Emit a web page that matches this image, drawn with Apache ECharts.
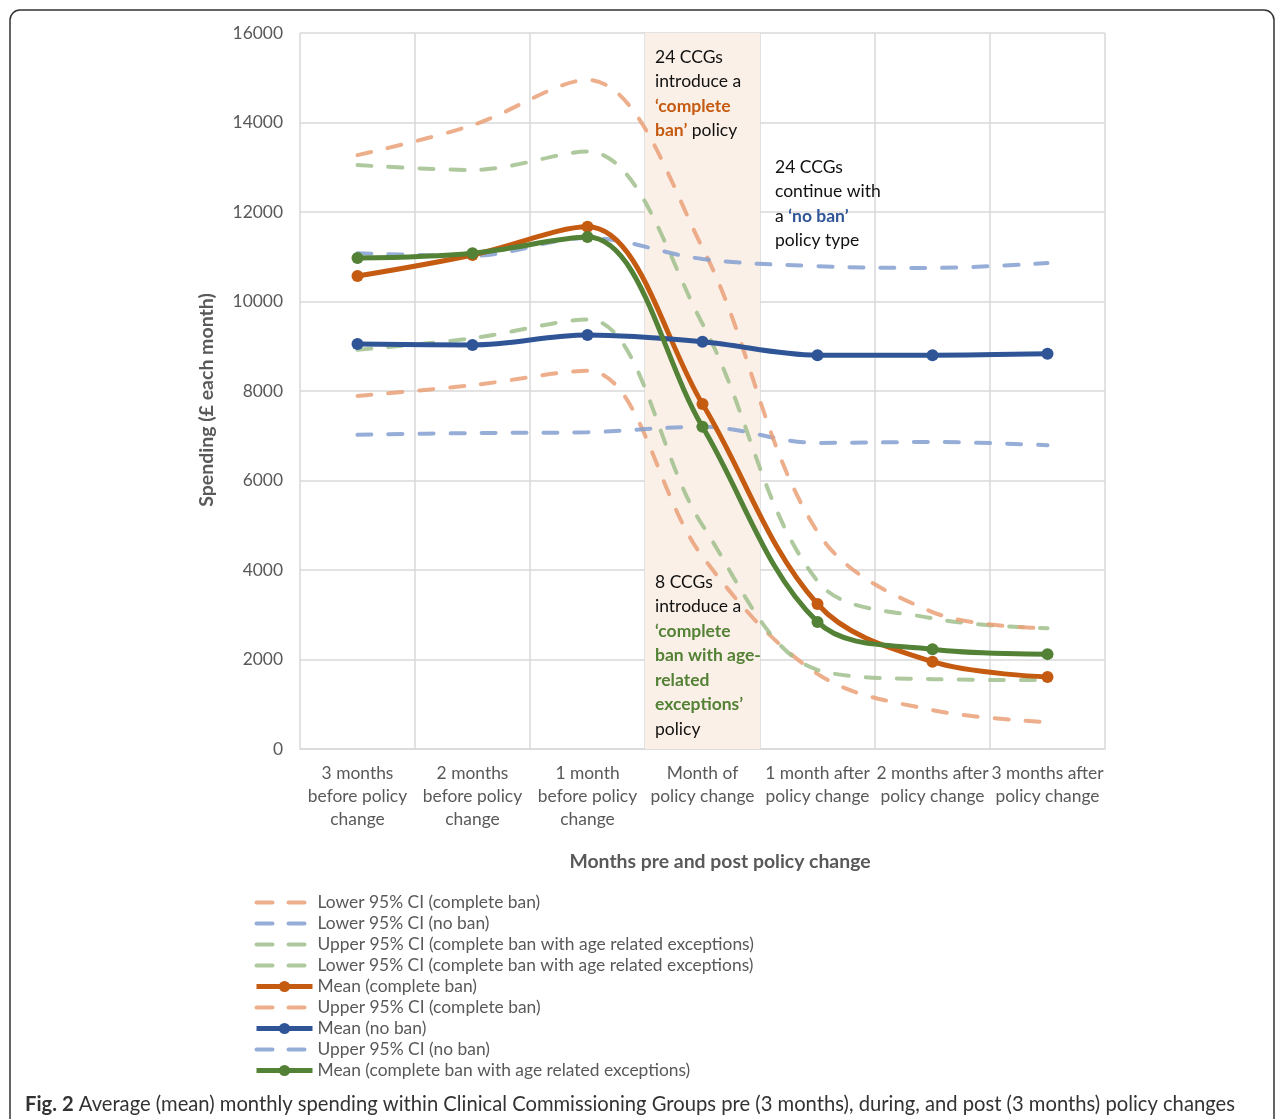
<!DOCTYPE html>
<html><head><meta charset="utf-8">
<script src="https://cdn.jsdelivr.net/npm/echarts@6/dist/echarts.min.js"></script>
<style>html,body{margin:0;padding:0;background:#fff}#c{width:1281px;height:1119px}</style>
</head><body><div id="c"></div>
<script>
const categories = ['3 months\nbefore policy\nchange','2 months\nbefore policy\nchange','1 month\nbefore policy\nchange','Month of\npolicy change','1 month after\npolicy change','2 months after\npolicy change','3 months after\npolicy change'];
const yTicks = [0,2000,4000,6000,8000,10000,12000,14000,16000];
const lowerCompleteBan = [7890, 8130, 8450, 4300, 1680, 870, 600];
const lowerNoBan = [7020, 7060, 7080, 7200, 6840, 6860, 6790];
const upperAgeExc = [13050, 12940, 13350, 9500, 3750, 2920, 2700];
const lowerAgeExc = [8920, 9180, 9600, 5000, 1770, 1560, 1540];
const meanCompleteBan = [10570, 11040, 11670, 7710, 3240, 1950, 1610];
const upperCompleteBan = [13270, 13940, 14950, 11200, 4850, 3060, 2700];
const meanNoBan = [9050, 9030, 9250, 9100, 8800, 8800, 8830];
const upperNoBan = [11080, 11020, 11420, 10950, 10790, 10750, 10860];
const meanAgeExc = [10970, 11080, 11440, 7200, 2840, 2230, 2120];
const policyBand = [null, null, null, 16000, null, null, null];

const FONT = 'Lato';
const FS = 17.4;
const SM = 0.35;
const cOr = '#c55a11', cBl = '#2f5597', cGr = '#538135';
const dOr = 'rgba(234,160,120,0.85)', dBl = 'rgba(132,160,208,0.85)', dGr = 'rgba(160,192,140,0.85)';

function dashed(name, data, color) {
  return {name, type:'line', data, smooth:SM, symbol:'none', z:3,
    lineStyle:{color, width:4, type:[14,17], cap:'round'}, itemStyle:{color}};
}
function mean(name, data, color) {
  return {name, type:'line', data, smooth:SM, symbol:'circle', symbolSize:12, z:4,
    lineStyle:{color, width:5}, itemStyle:{color}};
}
const series = [
  {name:'band', type:'bar', data:policyBand, barWidth:'100%', barGap:'-100%', z:1, silent:true,
   itemStyle:{color:'#fbf0e7'}},
  dashed('Lower 95% CI (complete ban)', lowerCompleteBan, dOr),
  dashed('Lower 95% CI (no ban)', lowerNoBan, dBl),
  dashed('Upper 95% CI (complete ban with age related exceptions)', upperAgeExc, dGr),
  dashed('Lower 95% CI (complete ban with age related exceptions)', lowerAgeExc, dGr),
  mean('Mean (complete ban)', meanCompleteBan, cOr),
  dashed('Upper 95% CI (complete ban)', upperCompleteBan, dOr),
  mean('Mean (no ban)', meanNoBan, cBl),
  dashed('Upper 95% CI (no ban)', upperNoBan, dBl),
  mean('Mean (complete ban with age related exceptions)', meanAgeExc, cGr)
];
const legendData = series.slice(1).map(s => s.symbol === 'none'
  ? {name:s.name, itemStyle:{opacity:0}, lineStyle:{width:4, type:[16,16], cap:'round'}}
  : {name:s.name, lineStyle:{width:5}});

const txt = {fontFamily:FONT, fontSize:17.5, lineHeight:24.5, fill:'#111'};
const option = {
  animation:false,
  backgroundColor:'#fff',
  textStyle:{fontFamily:FONT},
  grid:{left:300, right:176, top:33, bottom:370, containLabel:false},
  xAxis:{type:'category', data:categories, boundaryGap:true,
    axisLine:{lineStyle:{color:'#d9d9d9', width:1.5}}, axisTick:{show:false},
    splitLine:{show:true, lineStyle:{color:'#d9d9d9', width:1.5}},
    axisLabel:{color:'#595959', fontSize:FS, lineHeight:23, margin:13, fontFamily:FONT, interval:0}},
  yAxis:{type:'value', min:0, max:16000, interval:2000,
    axisLine:{show:false}, axisTick:{show:false},
    splitLine:{lineStyle:{color:'#d9d9d9', width:1.5}},
    axisLabel:{color:'#595959', fontSize:FS, margin:17, fontFamily:FONT, formatter:v => String(v)}},
  legend:{data:legendData, orient:'vertical', left:254, top:894, padding:0, itemWidth:56, itemHeight:14, itemGap:4,
    textStyle:{color:'#595959', fontSize:FS, fontFamily:FONT}, selectedMode:false},
  series,
  graphic:[
    {type:'rect', shape:{x:10, y:10, width:1264, height:1200, r:10}, style:{fill:'none', stroke:'#333', lineWidth:1.5}, z:-1, silent:true},
    {type:'text', x:207, y:400, rotation:Math.PI/2, z:20, style:{
      text:'Spending (£ each month)', align:'center', verticalAlign:'middle',
      fontFamily:FONT, fontSize:19.5, fontWeight:'bold', fill:'#595959'}},
    {type:'text', x:720, y:862, z:20, style:{
      text:'Months pre and post policy change', align:'center', verticalAlign:'middle',
      fontFamily:FONT, fontSize:19.4, fontWeight:'bold', fill:'#595959'}},
    {type:'text', left:655, top:45, z:20, style:Object.assign({}, txt, {
      text:'24 CCGs\nintroduce a\n{o|‘complete}\n{o|ban’} policy',
      rich:{o:{fill:cOr, fontWeight:'bold', fontFamily:FONT, fontSize:17.5}}})},
    {type:'text', left:775, top:155, z:20, style:Object.assign({}, txt, {
      text:'24 CCGs\ncontinue with\na {b|‘no ban’}\npolicy type',
      rich:{b:{fill:cBl, fontWeight:'bold', fontFamily:FONT, fontSize:17.5}}})},
    {type:'text', left:655, top:570, z:20, style:Object.assign({}, txt, {
      text:'8 CCGs\nintroduce a\n{g|‘complete}\n{g|ban with age-}\n{g|related}\n{g|exceptions’}\npolicy',
      rich:{g:{fill:cGr, fontWeight:'bold', fontFamily:FONT, fontSize:17.5}}})},
    {type:'text', x:25, y:1104, z:20, style:{
      text:'{b|Fig. 2} Average (mean) monthly spending within Clinical Commissioning Groups pre (3 months), during, and post (3 months) policy changes',
      verticalAlign:'middle', fontFamily:FONT, fontSize:20.2, fill:'#333',
      rich:{b:{fontWeight:'bold', fontFamily:FONT, fontSize:20.2, fill:'#333'}}}}
  ]
};
const chart = echarts.init(document.getElementById('c'));
chart.setOption(option);
</script></body></html>
